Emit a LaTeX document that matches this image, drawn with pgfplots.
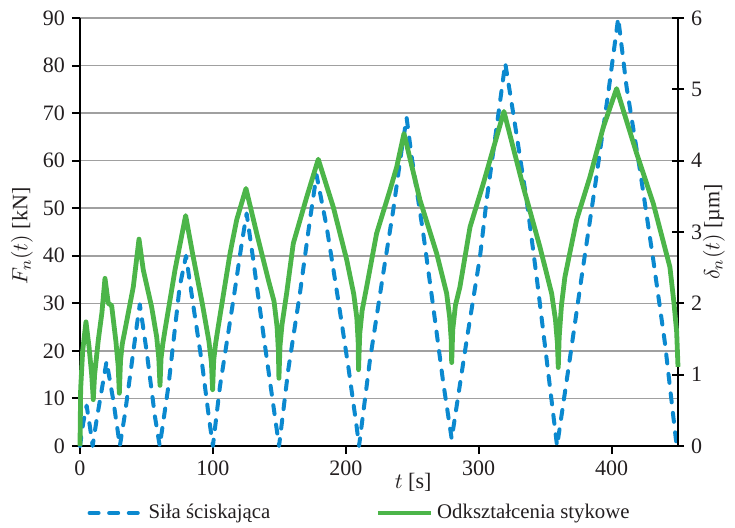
\documentclass[border=0pt]{standalone}
\usepackage{fontspec}
\setmainfont{Liberation Serif}
\usepackage{pgfplots}
\pgfplotsset{compat=1.18}

\definecolor{cblue}{RGB}{11,137,207}
\definecolor{cgreen}{RGB}{76,181,73}
\definecolor{cgrid}{RGB}{160,160,160}
\definecolor{ctext}{RGB}{35,31,32}

\begin{document}
\begin{tikzpicture}
\pgfplotsset{
  every axis/.append style={
    scale only axis, width=299pt, height=214pt,
    xmin=0, xmax=450, clip=false,
    font=\fontsize{11}{13}\selectfont, text=ctext,
    /pgf/number format/assume math mode=true,
    axis line style={black, line width=1.2pt},
    major tick style={black, line width=1pt},
    major tick length=4pt,
  },
  siladash/.style={cblue, line width=2pt, line cap=round, line join=round, dash pattern=on 4.5pt off 5.3pt},
  odksz/.style={cgreen, line width=2.4pt, line join=round},
}
% Siła ściskająca, F_n [kN]
\begin{axis}[
  axis x line*=bottom, axis y line*=left,
  ymin=0, ymax=90, ytick={0,10,...,90},
  xtick={0,100,...,400}, tick align=outside,
  ymajorgrids, grid style={cgrid, line width=0.8pt},
  xlabel={$t$ [s]},
  xlabel style={at={(axis description cs:0.557,-0.084)}, anchor=center},
  ylabel={$F_n(t)$ [kN]},
  ylabel style={at={(axis description cs:-0.097,0.49)}, anchor=center},
]
\addplot[siladash] coordinates {
(0,0) (2.5,5) (5,8.5) (7.5,4) (9.5,0)
(12.5,5.5) (20,17.8) (25,9.7) (30,0)
(33.9,6.9) (42.6,25) (45,29.8) (50,20.2) (56.4,6.2) (60,0)
(66.5,12.5) (75,33.5) (79.8,40) (85,30) (92,17) (97,6) (100,0)
(105.3,12.5) (115.4,30.7) (121.7,42.6) (125.4,48.9) (130.4,39.1) (137.9,23.7) (144.2,11.1) (149.8,0)
(156.7,16) (165.5,32.1) (173,47.5) (178,57) (185.6,46.1) (194.3,30.7) (201.9,16.7) (208.2,4) (210,0)
(218.2,18.1) (228.2,36.3) (235.7,49.6) (242,62.2) (245.8,69) (249.6,60.8) (258.3,44.7) (265.8,29.3) (273.4,13.2) (279.7,1.5)
(291,22.3) (301,39.8) (306,51.7) (313,66) (320,80.5) (326,70) (336.1,51.7) (343.6,35.6) (351.2,18.1) (359,0)
(367.4,16) (377.5,35.6) (387.5,54.5) (397.5,74.2) (405,90) (411.3,75.5) (421.4,58) (431.4,39.1) (440.2,21.6) (449,0)
};
\end{axis}
% Odkształcenia stykowe, delta_n [um]
\begin{axis}[
  axis x line=none, axis y line*=right,
  ymin=0, ymax=6, ytick={0,1,...,6},
  tick align=center, major tick length=6pt,
  ylabel={$\delta_n(t)$ [µm]},
  ylabel style={at={(axis description cs:1.06,0.5)}, anchor=center},
  legend columns=2,
  legend style={draw=none, fill=none, at={(axis description cs:0.012,-0.1565)}, anchor=west,
    font=\fontsize{10.4}{12}\selectfont, inner sep=0pt,
    /tikz/every even column/.append style={column sep=50.5pt}},
  legend image code/.code={\draw[#1] (0pt,0pt) -- (26.5pt,0pt);},
]
\addlegendimage{siladash}
\addlegendentry{Siła ściskająca}
\addplot[odksz] coordinates {
(0,0) (0.5,0.8) (2,1.33) (4.5,1.74) (6.8,1.39) (8.8,1.0) (10,0.65)
(11,1.0) (13.8,1.49) (16.5,1.87) (18.8,2.35) (21.3,2.0) (23.8,1.97) (27,1.47) (28.7,1.13) (29.6,0.74)
(30.5,1.2) (31.8,1.43) (33.9,1.63) (40.1,2.23) (44.4,2.9) (47.6,2.47) (53.9,1.95) (57.7,1.53) (59.3,1.23) (60.2,0.85)
(61,1.23) (62.3,1.43) (64,1.63) (71.5,2.47) (79.5,3.23) (85,2.67) (92,2.0) (97,1.47) (98.9,1.17) (99.8,0.79)
(100.6,1.2) (102,1.43) (104,1.67) (112.9,2.7) (117.9,3.17) (124.9,3.61) (133,2.98) (141.7,2.33) (146,2.03) (148.3,1.67) (149.3,1.33) (149.7,0.95)
(150.5,1.4) (152,1.7) (155.5,2.14) (160.5,2.84) (170.6,3.49) (179.3,4.02) (190.6,3.35) (200.7,2.61) (206,2.13) (208.3,1.8) (209.3,1.47) (209.6,1.07)
(210.5,1.57) (212.3,1.9) (215.7,2.23) (223.2,2.98) (233.3,3.59) (238.3,3.91) (243.8,4.38) (255.8,3.45) (268.4,2.7) (275.9,2.14) (278.2,1.8) (279.3,1.5) (279.7,1.17)
(280.5,1.63) (282.5,1.97) (285.9,2.23) (293.5,3.07) (303.5,3.68) (313.5,4.33) (319,4.69) (333.6,3.63) (346.1,2.79) (354.9,2.14) (357.8,1.77) (359.3,1.43) (359.9,1.1)
(360.6,1.53) (362.3,1.97) (364.9,2.37) (373.7,3.17) (383.7,3.77) (393.8,4.47) (403.8,5.01) (418.9,4.1) (431.4,3.4) (443.9,2.51) (447,2.0) (449,1.6) (450,1.11)
};
\addlegendentry{Odkształcenia stykowe}
\end{axis}
\pgfresetboundingbox
\path (-40pt,-40.5pt) rectangle (327.5pt,223pt);
\end{tikzpicture}
\end{document}
